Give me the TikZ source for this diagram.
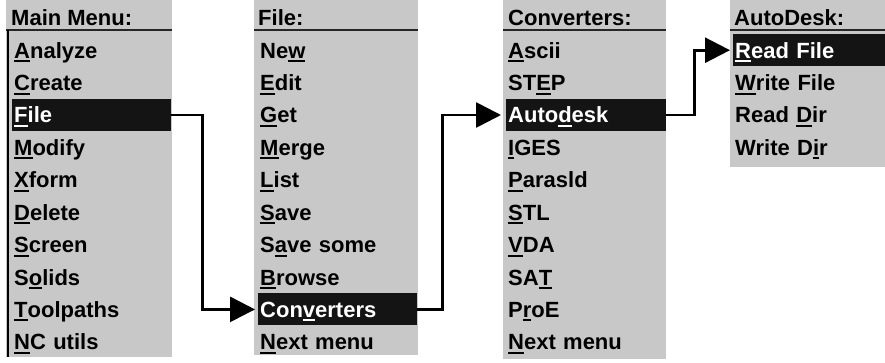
\documentclass[tikz,border=0pt]{standalone}
\usepackage{fontspec}
\setmainfont{Liberation Sans}
\usetikzlibrary{positioning,arrows.meta}
\definecolor{menugray}{RGB}{200,200,200}
\definecolor{selblack}{RGB}{20,20,20}
\newcommand\ukey[1]{\setbox0\hbox{#1}\rlap{\rule[-4pt]{\wd0}{2pt}}\box0}

\begin{document}
\begin{tikzpicture}[x=1pt,y=-1pt,
		menu/.style={fill=menugray},
		menutitle/.style={anchor=base west,inner sep=0pt,font=\fontsize{22}{24}\selectfont\bfseries},
		item/.style={anchor=north west,inner xsep=2pt,inner ysep=0pt,text height=24pt,text depth=8pt,text width=#1,align=left,font=\fontsize{22}{24}\selectfont\bfseries},
		item/.default=155pt,
		sel/.style={item=#1,fill=selblack,text=white},
		sel/.default=155pt,
		link/.style={line width=2.7pt,-{Triangle[length=25pt,width=25pt]}}]
		\useasboundingbox (0,0) rectangle (885,363);
		\fill[menu] (6,0) rectangle (172,357);
		\fill[menu] (254,0) rectangle (418,355);
		\fill[menu] (503,0) rectangle (666,359);
		\fill[menu] (730,0) rectangle (885,167);
		\draw[line width=1.6pt,black!85] (6,30) -- (172,30);
		\draw[line width=1.6pt,black!85] (254,30) -- (418,30);
		\draw[line width=1.6pt,black!85] (503,30) -- (666,30);
		\draw[line width=1.6pt,black!85] (730,30) -- (885,30);
		\draw[line width=2pt] (8,30) -- (8,357);

		\node[menutitle] (mainttl) at (11,26) {Main Menu:};
		\node[item] (mAnalyze) at (12,34) {\ukey{A}nalyze};
		\node[item] (mCreate) [below=0pt of mAnalyze] {\ukey{C}reate};
		\node[sel] (mFile) [below=0pt of mCreate] {\ukey{F}ile};
		\node[item] (mModify) [below=0pt of mFile] {\ukey{M}odify};
		\node[item] (mXform) [below=0pt of mModify] {\ukey{X}form};
		\node[item] (mDelete) [below=0pt of mXform] {\ukey{D}elete};
		\node[item] (mScreen) [below=0pt of mDelete] {\ukey{S}creen};
		\node[item] (mSolids) [below=0pt of mScreen] {S\ukey{o}lids};
		\node[item] (mToolpaths) [below=0pt of mSolids] {\ukey{T}oolpaths};
		\node[item] (mNCutils) [below=0pt of mToolpaths] {\ukey{N}C utils};

		\node[menutitle] (filettl) at (258,26) {File:};
		\node[item] (fNew) at (258,34) {Ne\ukey{w}};
		\node[item] (fEdit) [below=0pt of fNew] {\ukey{E}dit};
		\node[item] (fGet) [below=0pt of fEdit] {\ukey{G}et};
		\node[item] (fMerge) [below=0pt of fGet] {\ukey{M}erge};
		\node[item] (fList) [below=0pt of fMerge] {\ukey{L}ist};
		\node[item] (fSave) [below=0pt of fList] {\ukey{S}ave};
		\node[item] (fSavesome) [below=0pt of fSave] {S\ukey{a}ve some};
		\node[item] (fBrowse) [below=0pt of fSavesome] {\ukey{B}rowse};
		\node[sel] (fConverters) [below=0pt of fBrowse] {Con\ukey{v}erters};
		\node[item] (fNextmenu) [below=0pt of fConverters] {\ukey{N}ext menu};

		\node[menutitle] (convttl) at (508,26) {Converters:};
		\node[item=156pt] (cAscii) at (506,34) {\ukey{A}scii};
		\node[item=156pt] (cSTEP) [below=0pt of cAscii] {ST\ukey{E}P};
		\node[sel=156pt] (cAutodesk) [below=0pt of cSTEP] {Auto\ukey{d}esk};
		\node[item=156pt] (cIGES) [below=0pt of cAutodesk] {\ukey{I}GES};
		\node[item=156pt] (cParasld) [below=0pt of cIGES] {\ukey{P}arasld};
		\node[item=156pt] (cSTL) [below=0pt of cParasld] {\ukey{S}TL};
		\node[item=156pt] (cVDA) [below=0pt of cSTL] {\ukey{V}DA};
		\node[item=156pt] (cSAT) [below=0pt of cVDA] {SA\ukey{T}};
		\node[item=156pt] (cProE) [below=0pt of cSAT] {P\ukey{r}oE};
		\node[item=156pt] (cNextmenu) [below=0pt of cProE] {\ukey{N}ext menu};

		\node[menutitle] (autottl) at (734,26) {AutoDesk:};
		\node[sel=148pt] (aReadFile) at (733,34) {\ukey{R}ead File};
		\node[item=148pt] (aWriteFile) [below=0pt of aReadFile] {\ukey{W}rite File};
		\node[item=148pt] (aReadDir) [below=0pt of aWriteFile] {Read \ukey{D}ir};
		\node[item=148pt] (aWriteDir) [below=0pt of aReadDir] {Write D\ukey{i}r};

		\draw[link,shorten >=3pt] (mFile.east) -- ++(31,0) |- (fConverters.west);
		\draw[link,shorten >=5pt] (fConverters.east) -- ++(25,0) |- (cAutodesk.west);
		\draw[link,shorten >=3pt] (cAutodesk.east) -- ++(28,0) |- (aReadFile.west);
	\end{tikzpicture}
\end{document}
